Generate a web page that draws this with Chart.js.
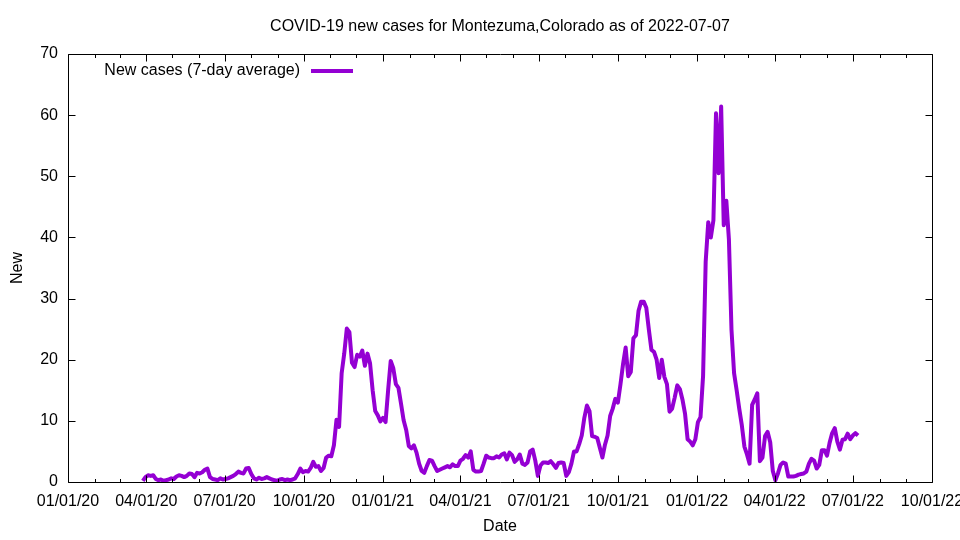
<!DOCTYPE html>
<html>
<head>
<meta charset="utf-8">
<title>COVID-19 new cases for Montezuma,Colorado</title>
<script src="https://cdn.jsdelivr.net/npm/chart.js"></script>
<style>
  html, body { margin: 0; padding: 0; background: #fff; }
  canvas { display: block; }
</style>
</head>
<body>
<canvas id="chart" width="960" height="540"></canvas>
<script>
const chartTitle = 'COVID-19 new cases for Montezuma,Colorado as of 2022-07-07';
const seriesLabel = 'New cases (7-day average)';

// x axis: tick labels (MM/DD/YY), the range runs from the first to the last
const xTickLabels = ['01/01/20', '04/01/20', '07/01/20', '10/01/20', '01/01/21', '04/01/21',
  '07/01/21', '10/01/21', '01/01/22', '04/01/22', '07/01/22', '10/01/22'];
const yTicks = [0, 10, 20, 30, 40, 50, 60, 70];

// 7-day average of new cases, one value every 3 days starting 2020-03-28
const startDate = '2020-03-28';
const stepDays = 3;
const newCases = [
  0.2, 0.8, 1.1, 1.0, 1.1, 0.5, 0.3, 0.4, 0.2, 0.3,
  0.4, 0.6, 0.5, 0.9, 1.1, 1.0, 0.8, 1.0, 1.4, 1.3,
  0.8, 1.5, 1.4, 1.6, 2.0, 2.2, 0.8, 0.5, 0.4, 0.3,
  0.6, 0.4, 0.5, 0.6, 0.8, 1.0, 1.3, 1.7, 1.5, 1.4,
  2.2, 2.3, 1.3, 0.6, 0.4, 0.7, 0.5, 0.6, 0.8, 0.6,
  0.4, 0.3, 0.2, 0.4, 0.5, 0.3, 0.4, 0.3, 0.4, 0.6,
  1.3, 2.2, 1.6, 1.8, 1.7, 2.3, 3.3, 2.5, 2.6, 1.8,
  2.3, 4.0, 4.3, 4.2, 6.0, 10.2, 9.0, 17.8, 21.0, 25.1,
  24.5, 19.5, 18.8, 20.8, 20.5, 21.5, 19.0, 21.0, 19.4, 15.0,
  11.6, 10.9, 9.9, 10.5, 9.8, 15.0, 19.8, 18.6, 16.0, 15.4,
  12.8, 10.1, 8.5, 5.9, 5.5, 6.0, 4.8, 3.0, 1.8, 1.5,
  2.6, 3.6, 3.5, 2.6, 1.8, 2.0, 2.2, 2.4, 2.6, 2.4,
  2.9, 2.6, 2.6, 3.5, 3.8, 4.4, 4.0, 5.0, 2.0, 1.7,
  1.7, 1.8, 3.0, 4.3, 4.0, 3.9, 3.9, 4.2, 4.0, 4.5,
  4.7, 3.7, 4.8, 4.4, 3.3, 3.7, 4.5, 3.0, 2.8, 3.2,
  5.0, 5.3, 3.5, 1.0, 2.7, 3.2, 3.2, 3.1, 3.4, 2.9,
  2.3, 3.1, 3.2, 3.1, 1.0, 1.6, 3.0, 5.0, 5.0, 6.2,
  7.6, 10.5, 12.5, 11.6, 7.5, 7.4, 7.2, 5.6, 4.0, 6.1,
  7.6, 10.8, 12.0, 13.6, 13.0, 16.0, 19.3, 22.0, 17.3, 18.0,
  23.5, 24.0, 28.0, 29.5, 29.5, 28.5, 24.9, 21.6, 21.3, 20.0,
  17.0, 20.0, 17.2, 16.0, 11.5, 12.0, 13.8, 15.8, 15.2, 13.5,
  11.2, 7.0, 6.6, 6.0, 7.0, 9.8, 10.6, 17.4, 36.0, 42.5,
  40.0, 42.8, 60.3, 50.5, 61.4, 42.0, 46.0, 39.7, 24.9, 17.8,
  15.0, 12.0, 9.3, 5.8, 4.5, 3.0, 12.6, 13.5, 14.5, 3.4,
  4.0, 7.5, 8.2, 6.5, 1.8, 0.3, 1.4, 2.8, 3.2, 3.0,
  0.9, 0.9, 0.9, 1.0, 1.2, 1.3, 1.4, 1.7, 3.0, 3.8,
  3.5, 2.2, 2.8, 5.2, 5.2, 4.3, 6.4, 8.0, 8.8, 6.6,
  5.3, 6.9, 7.0, 7.9, 7.0, 7.6, 8.0, 7.6
];

const LINE_COLOR = '#9400D3';
const FONT = { family: '"Liberation Sans", Arial, sans-serif', size: 16 };

// days since 2020-01-01
const DAY = 86400000;
const T0 = Date.UTC(2020, 0, 1);
function dayOfLabel(s) {
  const [m, d, y] = s.split('/').map(Number);
  return (Date.UTC(2000 + y, m - 1, d) - T0) / DAY;
}
function dayOfIso(s) {
  const [y, m, d] = s.split('-').map(Number);
  return (Date.UTC(y, m - 1, d) - T0) / DAY;
}

const xTickDays = xTickLabels.map(dayOfLabel);
const startDay = dayOfIso(startDate);
const points = newCases.map((v, i) => ({ x: startDay + i * stepDays, y: v }));

// month starts for the small ticks
const monthDays = [];
for (let m = 0; ; m++) {
  const d = (Date.UTC(2020, m, 1) - T0) / DAY;
  if (d > xTickDays[xTickDays.length - 1]) break;
  if (!xTickDays.includes(d)) monthDays.push(d);
}

// gnuplot style: box, inward ticks on all four sides, key inside top-left, title
const gnuplotFrame = {
  id: 'gnuplotFrame',
  afterDatasetsDraw(chart) {
    const { ctx, chartArea: a, scales: { x, y } } = chart;
    const L = a.left + 0.5, R = a.right + 0.5, T = a.top + 0.5, B = a.bottom + 0.5;
    ctx.save();
    ctx.strokeStyle = '#000';
    ctx.lineWidth = 1;
    ctx.beginPath();
    ctx.rect(L, T, R - L, B - T);
    xTickDays.forEach(d => {
      const px = Math.round(x.getPixelForValue(d)) + 0.5;
      ctx.moveTo(px, B); ctx.lineTo(px, B - 7);
      ctx.moveTo(px, T); ctx.lineTo(px, T + 7);
    });
    monthDays.forEach(d => {
      const px = Math.round(x.getPixelForValue(d)) + 0.5;
      ctx.moveTo(px, B); ctx.lineTo(px, B - 3.5);
      ctx.moveTo(px, T); ctx.lineTo(px, T + 3.5);
    });
    yTicks.forEach(v => {
      const py = Math.round(y.getPixelForValue(v)) + 0.5;
      ctx.moveTo(L, py); ctx.lineTo(L + 7, py);
      ctx.moveTo(R, py); ctx.lineTo(R - 7, py);
    });
    ctx.stroke();

    // key
    ctx.font = `${FONT.size}px ${FONT.family}`;
    ctx.fillStyle = '#000';
    ctx.textAlign = 'right';
    ctx.textBaseline = 'middle';
    ctx.fillText(chart.data.datasets[0].label, 300, 71);
    ctx.strokeStyle = LINE_COLOR;
    ctx.lineWidth = 4;
    ctx.beginPath();
    ctx.moveTo(311, 71);
    ctx.lineTo(353, 71);
    ctx.stroke();

    // title centred over the plot
    ctx.textAlign = 'center';
    ctx.fillText(chartTitle, (a.left + a.right) / 2, 27);
    ctx.restore();
  }
};

new Chart(document.getElementById('chart'), {
  type: 'line',
  data: {
    datasets: [{
      label: seriesLabel,
      data: points,
      borderColor: LINE_COLOR,
      backgroundColor: LINE_COLOR,
      borderWidth: 4,
      borderJoinStyle: 'round',
      pointRadius: 0,
      tension: 0,
      fill: false
    }]
  },
  options: {
    responsive: false,
    animation: false,
    layout: { padding: { top: 54, right: 28, left: 0, bottom: 0 } },
    plugins: {
      legend: { display: false },
      title: { display: false },
      tooltip: { enabled: false }
    },
    scales: {
      x: {
        type: 'linear',
        min: xTickDays[0],
        max: xTickDays[xTickDays.length - 1],
        grid: { display: false, drawTicks: false },
        border: { display: false },
        afterBuildTicks: s => { s.ticks = xTickDays.map(v => ({ value: v })); },
        afterFit: s => { s.height = 58; s.paddingLeft = 0; s.paddingRight = 0; },
        ticks: {
          autoSkip: false,
          maxRotation: 0,
          padding: 10,
          color: '#000',
          font: FONT,
          callback: v => xTickLabels[xTickDays.indexOf(v)]
        },
        title: { display: true, text: 'Date', color: '#000', font: FONT, padding: { top: 0, bottom: 4 } }
      },
      y: {
        min: 0,
        max: 70,
        grid: { display: false, drawTicks: false },
        border: { display: false },
        afterBuildTicks: s => { s.ticks = yTicks.map(v => ({ value: v })); },
        afterFit: s => { s.width = 68; s.paddingTop = 0; s.paddingBottom = 0; },
        ticks: { padding: 10, color: '#000', font: FONT },
        title: { display: true, text: 'New', color: '#000', font: FONT, padding: { top: 7.5, bottom: 0 } }
      }
    }
  },
  plugins: [gnuplotFrame]
});
</script>
</body>
</html>
